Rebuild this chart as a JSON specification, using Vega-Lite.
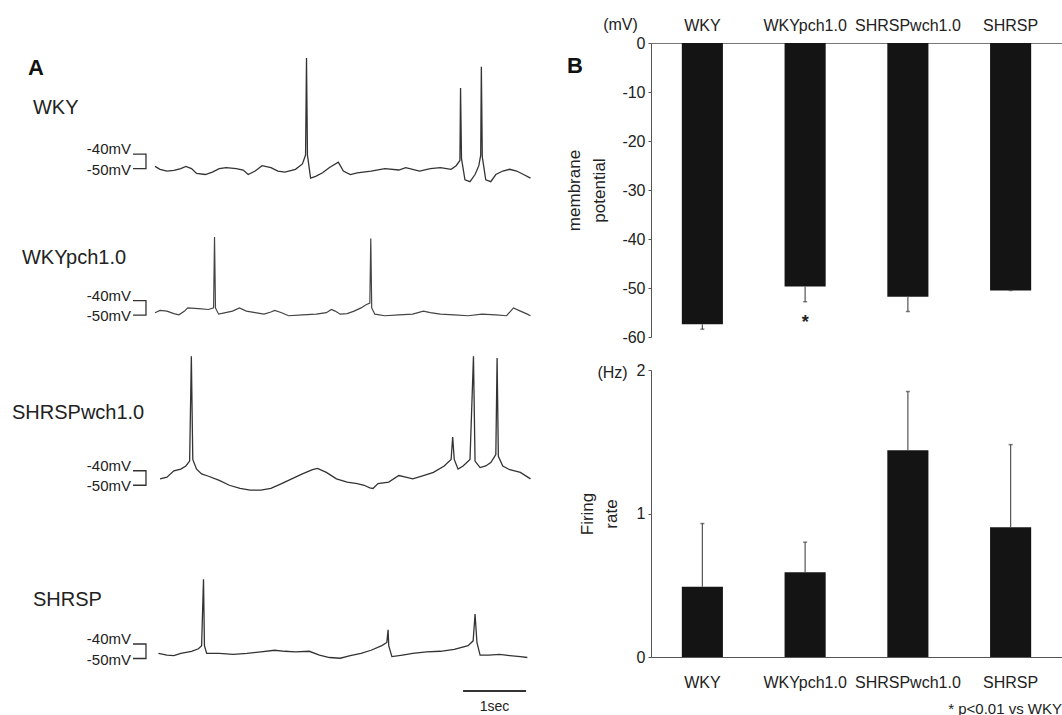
{
  "$schema": "https://vega.github.io/schema/vega-lite/v6.json",
  "background": "white",
  "padding": {"left": 0, "top": 16, "right": 0, "bottom": 0},
  "bounds": "flush",
  "spacing": 111,
  "datasets": {
    "wky": [{"t":0.00,"v":-48.5},{"t":0.08,"v":-50.5},{"t":0.19,"v":-51.7},{"t":0.30,"v":-51.2},{"t":0.41,"v":-50.0},{"t":0.49,"v":-48.5},{"t":0.58,"v":-50.0},{"t":0.66,"v":-53.4},{"t":0.80,"v":-54.1},{"t":0.91,"v":-52.4},{"t":1.02,"v":-50.0},{"t":1.13,"v":-49.3},{"t":1.29,"v":-50.0},{"t":1.40,"v":-51.0},{"t":1.48,"v":-54.1},{"t":1.59,"v":-51.7},{"t":1.70,"v":-48.0},{"t":1.84,"v":-49.3},{"t":1.95,"v":-51.7},{"t":2.06,"v":-52.4},{"t":2.23,"v":-50.5},{"t":2.34,"v":-46.8},{"t":2.39,"v":-40.7},{"t":2.405,"v":26.3},{"t":2.42,"v":-40.7},{"t":2.47,"v":-56.6},{"t":2.55,"v":-55.4},{"t":2.66,"v":-52.9},{"t":2.77,"v":-49.3},{"t":2.91,"v":-45.6},{"t":2.99,"v":-51.7},{"t":3.10,"v":-54.1},{"t":3.21,"v":-52.9},{"t":3.43,"v":-51.7},{"t":3.65,"v":-50.0},{"t":3.87,"v":-51.0},{"t":3.98,"v":-49.3},{"t":4.20,"v":-51.7},{"t":4.37,"v":-50.0},{"t":4.53,"v":-49.3},{"t":4.70,"v":-50.5},{"t":4.78,"v":-48.0},{"t":4.84,"v":-44.4},{"t":4.85,"v":5.6},{"t":4.865,"v":-43.2},{"t":4.92,"v":-57.8},{"t":5.00,"v":-59.0},{"t":5.08,"v":-54.1},{"t":5.14,"v":-48.0},{"t":5.17,"v":-40.7},{"t":5.18,"v":20.2},{"t":5.195,"v":-42.0},{"t":5.25,"v":-57.8},{"t":5.33,"v":-59.0},{"t":5.41,"v":-54.1},{"t":5.52,"v":-51.7},{"t":5.63,"v":-50.5},{"t":5.74,"v":-51.7},{"t":5.85,"v":-54.1},{"t":5.96,"v":-56.6}],
    "wkyp": [{"t":0.00,"v":-48.3},{"t":0.08,"v":-46.7},{"t":0.19,"v":-47.2},{"t":0.30,"v":-48.9},{"t":0.38,"v":-49.8},{"t":0.47,"v":-47.2},{"t":0.52,"v":-45.0},{"t":0.69,"v":-45.5},{"t":0.85,"v":-46.1},{"t":0.93,"v":-45.0},{"t":0.945,"v":3.9},{"t":0.96,"v":-45.0},{"t":1.01,"v":-49.3},{"t":1.12,"v":-48.3},{"t":1.23,"v":-47.2},{"t":1.34,"v":-45.0},{"t":1.45,"v":-47.2},{"t":1.59,"v":-48.3},{"t":1.73,"v":-49.3},{"t":1.84,"v":-47.8},{"t":1.90,"v":-46.7},{"t":2.01,"v":-48.3},{"t":2.12,"v":-50.4},{"t":2.34,"v":-49.8},{"t":2.56,"v":-49.3},{"t":2.72,"v":-48.3},{"t":2.80,"v":-46.1},{"t":2.86,"v":-47.2},{"t":2.94,"v":-49.3},{"t":3.05,"v":-48.9},{"t":3.16,"v":-47.2},{"t":3.27,"v":-45.0},{"t":3.35,"v":-42.8},{"t":3.41,"v":-41.7},{"t":3.425,"v":2.8},{"t":3.44,"v":-45.0},{"t":3.49,"v":-49.3},{"t":3.65,"v":-50.4},{"t":3.87,"v":-49.8},{"t":4.09,"v":-49.3},{"t":4.26,"v":-47.2},{"t":4.37,"v":-48.3},{"t":4.53,"v":-49.3},{"t":4.75,"v":-49.8},{"t":4.97,"v":-50.4},{"t":5.19,"v":-49.3},{"t":5.41,"v":-49.8},{"t":5.58,"v":-50.4},{"t":5.69,"v":-45.0},{"t":5.80,"v":-47.2},{"t":5.91,"v":-49.3},{"t":5.96,"v":-50.4}],
    "shrw": [{"t":0.08,"v":-45.6},{"t":0.19,"v":-44.4},{"t":0.30,"v":-40.0},{"t":0.41,"v":-38.9},{"t":0.49,"v":-36.7},{"t":0.55,"v":-33.3},{"t":0.577,"v":38.9},{"t":0.60,"v":-32.2},{"t":0.66,"v":-38.9},{"t":0.74,"v":-42.2},{"t":0.85,"v":-43.8},{"t":1.02,"v":-46.7},{"t":1.18,"v":-50.0},{"t":1.35,"v":-52.2},{"t":1.51,"v":-53.3},{"t":1.68,"v":-53.3},{"t":1.84,"v":-52.2},{"t":2.01,"v":-48.9},{"t":2.17,"v":-45.6},{"t":2.34,"v":-42.2},{"t":2.50,"v":-39.3},{"t":2.58,"v":-38.4},{"t":2.72,"v":-41.1},{"t":2.88,"v":-45.6},{"t":3.05,"v":-47.8},{"t":3.21,"v":-48.9},{"t":3.32,"v":-50.0},{"t":3.41,"v":-51.8},{"t":3.46,"v":-52.2},{"t":3.54,"v":-48.9},{"t":3.71,"v":-47.8},{"t":3.87,"v":-43.3},{"t":3.98,"v":-44.4},{"t":4.09,"v":-45.6},{"t":4.26,"v":-43.3},{"t":4.42,"v":-41.1},{"t":4.59,"v":-36.7},{"t":4.70,"v":-32.2},{"t":4.725,"v":-16.7},{"t":4.75,"v":-32.2},{"t":4.81,"v":-38.9},{"t":4.89,"v":-36.7},{"t":5.00,"v":-32.2},{"t":5.055,"v":38.9},{"t":5.08,"v":-33.3},{"t":5.16,"v":-37.8},{"t":5.25,"v":-36.7},{"t":5.33,"v":-34.4},{"t":5.41,"v":-28.9},{"t":5.43,"v":37.8},{"t":5.45,"v":-30.0},{"t":5.52,"v":-36.7},{"t":5.63,"v":-39.3},{"t":5.80,"v":-41.1},{"t":5.96,"v":-45.6}],
    "shr": [{"t":0.055,"v":-46.5},{"t":0.19,"v":-47.6},{"t":0.30,"v":-48.0},{"t":0.41,"v":-46.5},{"t":0.58,"v":-45.0},{"t":0.69,"v":-43.3},{"t":0.74,"v":-41.1},{"t":0.77,"v":4.6},{"t":0.785,"v":-41.1},{"t":0.82,"v":-46.5},{"t":1.02,"v":-46.5},{"t":1.24,"v":-47.2},{"t":1.46,"v":-46.5},{"t":1.68,"v":-45.4},{"t":1.90,"v":-44.3},{"t":2.06,"v":-45.0},{"t":2.23,"v":-45.4},{"t":2.45,"v":-45.0},{"t":2.61,"v":-47.6},{"t":2.77,"v":-49.3},{"t":2.94,"v":-49.8},{"t":3.10,"v":-48.0},{"t":3.27,"v":-46.5},{"t":3.43,"v":-44.3},{"t":3.60,"v":-41.1},{"t":3.68,"v":-38.9},{"t":3.70,"v":-30.2},{"t":3.71,"v":-41.1},{"t":3.76,"v":-48.7},{"t":3.93,"v":-47.6},{"t":4.09,"v":-46.5},{"t":4.31,"v":-45.4},{"t":4.53,"v":-45.0},{"t":4.75,"v":-43.7},{"t":4.97,"v":-41.1},{"t":5.05,"v":-37.8},{"t":5.08,"v":-19.3},{"t":5.11,"v":-38.9},{"t":5.16,"v":-47.6},{"t":5.30,"v":-47.6},{"t":5.47,"v":-47.2},{"t":5.63,"v":-48.0},{"t":5.80,"v":-48.7},{"t":5.91,"v":-49.3}],
    "bracket": [{"t":-0.349,"v":-40,"i":0},{"t":-0.143,"v":-40,"i":1},{"t":-0.143,"v":-50,"i":2},{"t":-0.349,"v":-50,"i":3}],
    "lab40": [{"t":-0.381,"v":-40,"txt":"-40mV"}],
    "lab50": [{"t":-0.381,"v":-50,"txt":"-50mV"}],
    "potential": [{"g":"WKY","mv":-57.4,"lo":-58.4,"sig":null,"sigY":null},{"g":"WKYpch1.0","mv":-49.7,"lo":-52.8,"sig":"*","sigY":-57.1},{"g":"SHRSPwch1.0","mv":-51.8,"lo":-54.8,"sig":null,"sigY":null},{"g":"SHRSP","mv":-50.5,"lo":-50.5,"sig":null,"sigY":null}],
    "firing": [{"g":"WKY","hz":0.49,"hi":0.93},{"g":"WKYpch1.0","hz":0.59,"hi":0.80},{"g":"SHRSPwch1.0","hz":1.44,"hi":1.85},{"g":"SHRSP","hz":0.905,"hi":1.48}]
  },
  "hconcat": [
    {
      "width": 540,
      "height": 672,
      "resolve": {"scale": {"y": "independent"}},
      "layer": [
        {
          "layer": [
            {"data": {"name": "wky"}, "mark": {"type": "line", "color": "#333", "strokeWidth": 1.3},
             "encoding": {"x": {"field": "t", "type": "quantitative", "scale": {"domain": [-2.46, 6.111], "nice": false, "zero": false}, "axis": null},
                          "y": {"field": "v", "type": "quantitative", "scale": {"domain": [-426.85, 36.6], "nice": false, "zero": false}, "axis": null},
                          "order": {"field": "t", "type": "quantitative"}}},
            {"data": {"name": "bracket"}, "mark": {"type": "line", "color": "#333", "strokeWidth": 1.3},
             "encoding": {"x": {"field": "t", "type": "quantitative", "scale": {"domain": [-2.46, 6.111], "nice": false, "zero": false}, "axis": null},
                          "y": {"field": "v", "type": "quantitative", "scale": {"domain": [-426.85, 36.6], "nice": false, "zero": false}, "axis": null},
                          "order": {"field": "i", "type": "quantitative"}}},
            {"data": {"name": "lab40"}, "mark": {"type": "text", "align": "right", "baseline": "middle", "dy": -5, "fontSize": 15, "color": "#222"},
             "encoding": {"x": {"field": "t", "type": "quantitative", "scale": {"domain": [-2.46, 6.111], "nice": false, "zero": false}, "axis": null},
                          "y": {"field": "v", "type": "quantitative", "scale": {"domain": [-426.85, 36.6], "nice": false, "zero": false}, "axis": null},
                          "text": {"field": "txt"}}},
            {"data": {"name": "lab50"}, "mark": {"type": "text", "align": "right", "baseline": "middle", "dy": 1, "fontSize": 15, "color": "#222"},
             "encoding": {"x": {"field": "t", "type": "quantitative", "scale": {"domain": [-2.46, 6.111], "nice": false, "zero": false}, "axis": null},
                          "y": {"field": "v", "type": "quantitative", "scale": {"domain": [-426.85, 36.6], "nice": false, "zero": false}, "axis": null},
                          "text": {"field": "txt"}}},
            {"data": {"values": [{"t": -1.937, "v": -8.2, "txt": "WKY"}]}, "mark": {"type": "text", "align": "left", "baseline": "middle", "fontSize": 20, "color": "#222"},
             "encoding": {"x": {"field": "t", "type": "quantitative", "scale": {"domain": [-2.46, 6.111], "nice": false, "zero": false}, "axis": null},
                          "y": {"field": "v", "type": "quantitative", "scale": {"domain": [-426.85, 36.6], "nice": false, "zero": false}, "axis": null},
                          "text": {"field": "txt"}}},
            {"data": {"values": [{"t": -1.889, "v": 19.5, "txt": "A"}, {"t": 6.667, "v": 20.5, "txt": "B"}]}, "mark": {"type": "text", "align": "center", "baseline": "middle", "fontSize": 22, "fontWeight": "bold", "color": "#111"},
             "encoding": {"x": {"field": "t", "type": "quantitative", "scale": {"domain": [-2.46, 6.111], "nice": false, "zero": false}, "axis": null},
                          "y": {"field": "v", "type": "quantitative", "scale": {"domain": [-426.85, 36.6], "nice": false, "zero": false}, "axis": null},
                          "text": {"field": "txt"}}}
          ]
        },
        {
          "layer": [
            {"data": {"name": "wkyp"}, "mark": {"type": "line", "color": "#444", "strokeWidth": 1.2},
             "encoding": {"x": {"field": "t", "type": "quantitative", "scale": {"domain": [-2.46, 6.111], "nice": false, "zero": false}, "axis": null},
                          "y": {"field": "v", "type": "quantitative", "scale": {"domain": [-325.75, 137.7], "nice": false, "zero": false}, "axis": null},
                          "order": {"field": "t", "type": "quantitative"}}},
            {"data": {"name": "bracket"}, "mark": {"type": "line", "color": "#333", "strokeWidth": 1.3},
             "encoding": {"x": {"field": "t", "type": "quantitative", "scale": {"domain": [-2.46, 6.111], "nice": false, "zero": false}, "axis": null},
                          "y": {"field": "v", "type": "quantitative", "scale": {"domain": [-325.75, 137.7], "nice": false, "zero": false}, "axis": null},
                          "order": {"field": "i", "type": "quantitative"}}},
            {"data": {"name": "lab40"}, "mark": {"type": "text", "align": "right", "baseline": "middle", "dy": -5, "fontSize": 15, "color": "#222"},
             "encoding": {"x": {"field": "t", "type": "quantitative", "scale": {"domain": [-2.46, 6.111], "nice": false, "zero": false}, "axis": null},
                          "y": {"field": "v", "type": "quantitative", "scale": {"domain": [-325.75, 137.7], "nice": false, "zero": false}, "axis": null},
                          "text": {"field": "txt"}}},
            {"data": {"name": "lab50"}, "mark": {"type": "text", "align": "right", "baseline": "middle", "dy": 1, "fontSize": 15, "color": "#222"},
             "encoding": {"x": {"field": "t", "type": "quantitative", "scale": {"domain": [-2.46, 6.111], "nice": false, "zero": false}, "axis": null},
                          "y": {"field": "v", "type": "quantitative", "scale": {"domain": [-325.75, 137.7], "nice": false, "zero": false}, "axis": null},
                          "text": {"field": "txt"}}},
            {"data": {"values": [{"t": -2.111, "v": -10.3, "txt": "WKYpch1.0"}]}, "mark": {"type": "text", "align": "left", "baseline": "middle", "fontSize": 20, "color": "#222"},
             "encoding": {"x": {"field": "t", "type": "quantitative", "scale": {"domain": [-2.46, 6.111], "nice": false, "zero": false}, "axis": null},
                          "y": {"field": "v", "type": "quantitative", "scale": {"domain": [-325.75, 137.7], "nice": false, "zero": false}, "axis": null},
                          "text": {"field": "txt"}}}
          ]
        },
        {
          "layer": [
            {"data": {"name": "shrw"}, "mark": {"type": "line", "color": "#333", "strokeWidth": 1.3},
             "encoding": {"x": {"field": "t", "type": "quantitative", "scale": {"domain": [-2.46, 6.111], "nice": false, "zero": false}, "axis": null},
                          "y": {"field": "v", "type": "quantitative", "scale": {"domain": [-208.45, 255.0], "nice": false, "zero": false}, "axis": null},
                          "order": {"field": "t", "type": "quantitative"}}},
            {"data": {"name": "bracket"}, "mark": {"type": "line", "color": "#333", "strokeWidth": 1.3},
             "encoding": {"x": {"field": "t", "type": "quantitative", "scale": {"domain": [-2.46, 6.111], "nice": false, "zero": false}, "axis": null},
                          "y": {"field": "v", "type": "quantitative", "scale": {"domain": [-208.45, 255.0], "nice": false, "zero": false}, "axis": null},
                          "order": {"field": "i", "type": "quantitative"}}},
            {"data": {"name": "lab40"}, "mark": {"type": "text", "align": "right", "baseline": "middle", "dy": -5, "fontSize": 15, "color": "#222"},
             "encoding": {"x": {"field": "t", "type": "quantitative", "scale": {"domain": [-2.46, 6.111], "nice": false, "zero": false}, "axis": null},
                          "y": {"field": "v", "type": "quantitative", "scale": {"domain": [-208.45, 255.0], "nice": false, "zero": false}, "axis": null},
                          "text": {"field": "txt"}}},
            {"data": {"name": "lab50"}, "mark": {"type": "text", "align": "right", "baseline": "middle", "dy": 1, "fontSize": 15, "color": "#222"},
             "encoding": {"x": {"field": "t", "type": "quantitative", "scale": {"domain": [-2.46, 6.111], "nice": false, "zero": false}, "axis": null},
                          "y": {"field": "v", "type": "quantitative", "scale": {"domain": [-208.45, 255.0], "nice": false, "zero": false}, "axis": null},
                          "text": {"field": "txt"}}},
            {"data": {"values": [{"t": -2.27, "v": -0.2, "txt": "SHRSPwch1.0"}]}, "mark": {"type": "text", "align": "left", "baseline": "middle", "fontSize": 20, "color": "#222"},
             "encoding": {"x": {"field": "t", "type": "quantitative", "scale": {"domain": [-2.46, 6.111], "nice": false, "zero": false}, "axis": null},
                          "y": {"field": "v", "type": "quantitative", "scale": {"domain": [-208.45, 255.0], "nice": false, "zero": false}, "axis": null},
                          "text": {"field": "txt"}}}
          ]
        },
        {
          "layer": [
            {"data": {"name": "shr"}, "mark": {"type": "line", "color": "#333", "strokeWidth": 1.3},
             "encoding": {"x": {"field": "t", "type": "quantitative", "scale": {"domain": [-2.46, 6.111], "nice": false, "zero": false}, "axis": null},
                          "y": {"field": "v", "type": "quantitative", "scale": {"domain": [-88.95, 374.5], "nice": false, "zero": false}, "axis": null},
                          "order": {"field": "t", "type": "quantitative"}}},
            {"data": {"name": "bracket"}, "mark": {"type": "line", "color": "#333", "strokeWidth": 1.3},
             "encoding": {"x": {"field": "t", "type": "quantitative", "scale": {"domain": [-2.46, 6.111], "nice": false, "zero": false}, "axis": null},
                          "y": {"field": "v", "type": "quantitative", "scale": {"domain": [-88.95, 374.5], "nice": false, "zero": false}, "axis": null},
                          "order": {"field": "i", "type": "quantitative"}}},
            {"data": {"name": "lab40"}, "mark": {"type": "text", "align": "right", "baseline": "middle", "dy": -5, "fontSize": 15, "color": "#222"},
             "encoding": {"x": {"field": "t", "type": "quantitative", "scale": {"domain": [-2.46, 6.111], "nice": false, "zero": false}, "axis": null},
                          "y": {"field": "v", "type": "quantitative", "scale": {"domain": [-88.95, 374.5], "nice": false, "zero": false}, "axis": null},
                          "text": {"field": "txt"}}},
            {"data": {"name": "lab50"}, "mark": {"type": "text", "align": "right", "baseline": "middle", "dy": 1, "fontSize": 15, "color": "#222"},
             "encoding": {"x": {"field": "t", "type": "quantitative", "scale": {"domain": [-2.46, 6.111], "nice": false, "zero": false}, "axis": null},
                          "y": {"field": "v", "type": "quantitative", "scale": {"domain": [-88.95, 374.5], "nice": false, "zero": false}, "axis": null},
                          "text": {"field": "txt"}}},
            {"data": {"values": [{"t": -1.937, "v": -9.6, "txt": "SHRSP"}]}, "mark": {"type": "text", "align": "left", "baseline": "middle", "fontSize": 20, "color": "#222"},
             "encoding": {"x": {"field": "t", "type": "quantitative", "scale": {"domain": [-2.46, 6.111], "nice": false, "zero": false}, "axis": null},
                          "y": {"field": "v", "type": "quantitative", "scale": {"domain": [-88.95, 374.5], "nice": false, "zero": false}, "axis": null},
                          "text": {"field": "txt"}}},
            {"data": {"values": [{"t1": 4.89, "t2": 5.89, "v": -72.4}]}, "mark": {"type": "rule", "color": "#333", "strokeWidth": 2},
             "encoding": {"x": {"field": "t1", "type": "quantitative", "scale": {"domain": [-2.46, 6.111], "nice": false, "zero": false}, "axis": null},
                          "x2": {"field": "t2"},
                          "y": {"field": "v", "type": "quantitative", "scale": {"domain": [-88.95, 374.5], "nice": false, "zero": false}, "axis": null}}},
            {"data": {"values": [{"t": 5.39, "v": -83.4, "txt": "1sec"}]}, "mark": {"type": "text", "align": "center", "baseline": "middle", "fontSize": 14, "color": "#222"},
             "encoding": {"x": {"field": "t", "type": "quantitative", "scale": {"domain": [-2.46, 6.111], "nice": false, "zero": false}, "axis": null},
                          "y": {"field": "v", "type": "quantitative", "scale": {"domain": [-88.95, 374.5], "nice": false, "zero": false}, "axis": null},
                          "text": {"field": "txt"}}}
          ]
        }
      ]
    },
    {
      "vconcat": [
        {
          "width": 411,
          "height": 294,
          "data": {"name": "potential"},
          "encoding": {
            "x": {"field": "g", "type": "nominal", "sort": ["WKY", "WKYpch1.0", "SHRSPwch1.0", "SHRSP"],
                  "scale": {"paddingInner": 0.6, "paddingOuter": 0.3},
                  "axis": {"orient": "top", "title": "(mV)", "titleX": -31, "titleY": -19, "titleAngle": 0, "titleAlign": "center", "titleBaseline": "middle", "titleFontSize": 16,
                           "labelFontSize": 16, "labelAngle": 0, "labelPadding": 9.6, "ticks": false, "tickSize": 0, "labelOverlap": false, "labelLimit": 0, "domainColor": "#777"}}
          },
          "layer": [
            {"mark": {"type": "bar", "color": "#141414"},
             "encoding": {"y": {"field": "mv", "type": "quantitative", "title": ["membrane", "potential"], "scale": {"domain": [-60, 0], "nice": false},
                                "axis": {"values": [0, -10, -20, -30, -40, -50, -60], "labelExpr": "'' + datum.value", "labelFontSize": 16, "tickSize": 3, "labelPadding": 3, "titleFontSize": 17, "titlePadding": 13, "titleLineHeight": 25}}}},
            {"mark": {"type": "rule", "color": "#555", "strokeWidth": 1.2},
             "encoding": {"y": {"field": "mv", "type": "quantitative", "title": ["membrane", "potential"]}, "y2": {"field": "lo"}}},
            {"mark": {"type": "tick", "color": "#444", "size": 4, "thickness": 1.5},
             "encoding": {"y": {"field": "lo", "type": "quantitative", "title": ["membrane", "potential"]}}},
            {"transform": [{"filter": "datum.sig != null"}],
             "mark": {"type": "text", "fontSize": 18, "fontWeight": "bold", "baseline": "middle", "color": "#222"},
             "encoding": {"y": {"field": "sigY", "type": "quantitative", "title": ["membrane", "potential"]}, "text": {"field": "sig"}}}
          ]
        },
        {
          "width": 411,
          "height": 287,
          "data": {"name": "firing"},
          "title": {"text": "* p<0.01 vs WKY", "orient": "bottom", "anchor": "end", "frame": "group", "fontSize": 15, "fontWeight": "normal", "color": "#222", "offset": 11.5},
          "encoding": {
            "x": {"field": "g", "type": "nominal", "sort": ["WKY", "WKYpch1.0", "SHRSPwch1.0", "SHRSP"],
                  "scale": {"paddingInner": 0.6, "paddingOuter": 0.3},
                  "axis": {"orient": "bottom", "title": "(Hz)", "titleX": -39, "titleY": -285, "titleAngle": 0, "titleAlign": "center", "titleBaseline": "middle", "titleFontSize": 16,
                           "labelFontSize": 16, "labelAngle": 0, "labelPadding": 17, "ticks": false, "tickSize": 0, "labelOverlap": false, "labelLimit": 0}}
          },
          "layer": [
            {"mark": {"type": "bar", "color": "#141414"},
             "encoding": {"y": {"field": "hz", "type": "quantitative", "title": ["Firing", "rate"], "scale": {"domain": [0, 2], "nice": false},
                                "axis": {"values": [0, 1, 2], "labelExpr": "'' + datum.value", "labelFontSize": 16, "tickSize": 3, "labelPadding": 3, "titleFontSize": 17, "titlePadding": 16, "titleLineHeight": 24}}}},
            {"mark": {"type": "rule", "color": "#555", "strokeWidth": 1.2},
             "encoding": {"y": {"field": "hz", "type": "quantitative", "title": ["Firing", "rate"]}, "y2": {"field": "hi"}}},
            {"mark": {"type": "tick", "color": "#444", "size": 4, "thickness": 1.5},
             "encoding": {"y": {"field": "hi", "type": "quantitative", "title": ["Firing", "rate"]}}}
          ]
        }
      ],
      "spacing": 33,
      "bounds": "flush"
    }
  ],
  "config": {
    "font": "Liberation Sans",
    "view": {"stroke": null, "fill": "white"},
    "axis": {"grid": false, "labelColor": "#222", "titleColor": "#222", "domainColor": "#555", "tickColor": "#555", "titleFontWeight": "normal", "labelFont": "Liberation Sans", "titleFont": "Liberation Sans"},
    "text": {"font": "Liberation Sans"},
    "title": {"font": "Liberation Sans"}
  }
}
